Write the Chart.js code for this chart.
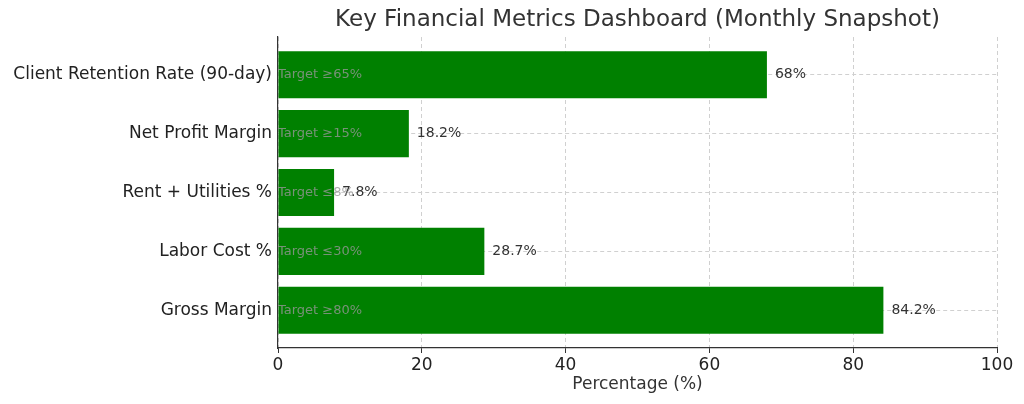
<!DOCTYPE html>
<html>
<head>
<meta charset="utf-8">
<script src="https://cdn.jsdelivr.net/npm/chart.js@4"></script>
<style>
  html, body { margin: 0; padding: 0; background: #fff; }
  #wrap { width: 1024px; height: 404px; }
</style>
</head>
<body>
<div id="wrap"><canvas id="chart"></canvas></div>
<script>
// bottom to top, like the picture
const categories = ["Gross Margin", "Labor Cost %", "Rent + Utilities %", "Net Profit Margin", "Client Retention Rate (90-day)"];
const values = [84.2, 28.7, 7.8, 18.2, 68];
const valueLabels = ["84.2%", "28.7%", "7.8%", "18.2%", "68%"];
const targets = ["Target ≥80%", "Target ≤30%", "Target ≤8%", "Target ≥15%", "Target ≥65%"];
const xTicks = [0, 20, 40, 60, 80, 100];
const chartTitle = "Key Financial Metrics Dashboard (Monthly Snapshot)";

const FONT = "'DejaVu Sans', sans-serif";

// writes the value after each bar and the target inside it
const barText = {
  id: "barText",
  afterDatasetsDraw(chart) {
    const ctx = chart.ctx;
    const meta = chart.getDatasetMeta(0);
    const x0 = chart.scales.x.getPixelForValue(0);
    ctx.save();
    ctx.textBaseline = "middle";
    meta.data.forEach((bar, i) => {
      ctx.font = "14px " + FONT;
      ctx.fillStyle = "#333";
      ctx.textAlign = "left";
      ctx.fillText(valueLabels[i], bar.x + 8, bar.y);
      ctx.font = "13px " + FONT;
      ctx.fillStyle = "rgba(150,150,150,0.8)";
      ctx.fillText(targets[i], x0, bar.y);
    });
    ctx.restore();
  },
  afterDraw(chart) {
    const { ctx, chartArea } = chart;
    ctx.save();
    ctx.font = "23px " + FONT;
    ctx.fillStyle = "#333";
    ctx.textAlign = "center";
    ctx.textBaseline = "middle";
    ctx.fillText(chartTitle, (chartArea.left + chartArea.right) / 2, 20);
    ctx.restore();
  }
};

new Chart(document.getElementById("chart"), {
  type: "bar",
  data: {
    datasets: [{
      data: values.map((v, i) => ({ x: v, y: i })),
      backgroundColor: "#008000",
      borderWidth: 0,
      barPercentage: 0.8,
      categoryPercentage: 1
    }]
  },
  options: {
    indexAxis: "y",
    responsive: true,
    maintainAspectRatio: false,
    animation: false,
    layout: { padding: { top: 37, right: 27, left: 0, bottom: 0 } },
    plugins: { legend: { display: false }, tooltip: { enabled: false } },
    scales: {
      x: {
        type: "linear",
        min: 0,
        max: 100,
        z: 1,
        afterBuildTicks: (s) => { s.ticks = xTicks.map((v) => ({ value: v })); },
        afterFit: (s) => { s.height = 56; },
        ticks: { color: "#222", font: { family: FONT, size: 17 }, padding: 2 },
        grid: { color: "#d0d0d0", tickColor: "#333", tickLength: 5, tickBorderDash: [] },
        border: { display: true, color: "#333", width: 1.2, dash: [4, 3] },
        title: { display: true, text: "Percentage (%)", color: "#333", font: { family: FONT, size: 17 }, padding: { top: 2, bottom: 9 } }
      },
      y: {
        type: "linear",
        min: -0.64,
        max: 4.64,
        offset: false,
        z: 1,
        afterBuildTicks: (s) => { s.ticks = categories.map((c, i) => ({ value: i })); },
        afterFit: (s) => { s.width = 278; },
        ticks: { color: "#222", font: { family: FONT, size: 17 }, padding: 6, callback: (v) => categories[v] },
        grid: { color: "#d0d0d0", drawTicks: false, offset: false },
        border: { display: true, color: "#333", width: 1.2, dash: [4, 3] }
      }
    }
  },
  plugins: [barText]
});
</script>
</body>
</html>
